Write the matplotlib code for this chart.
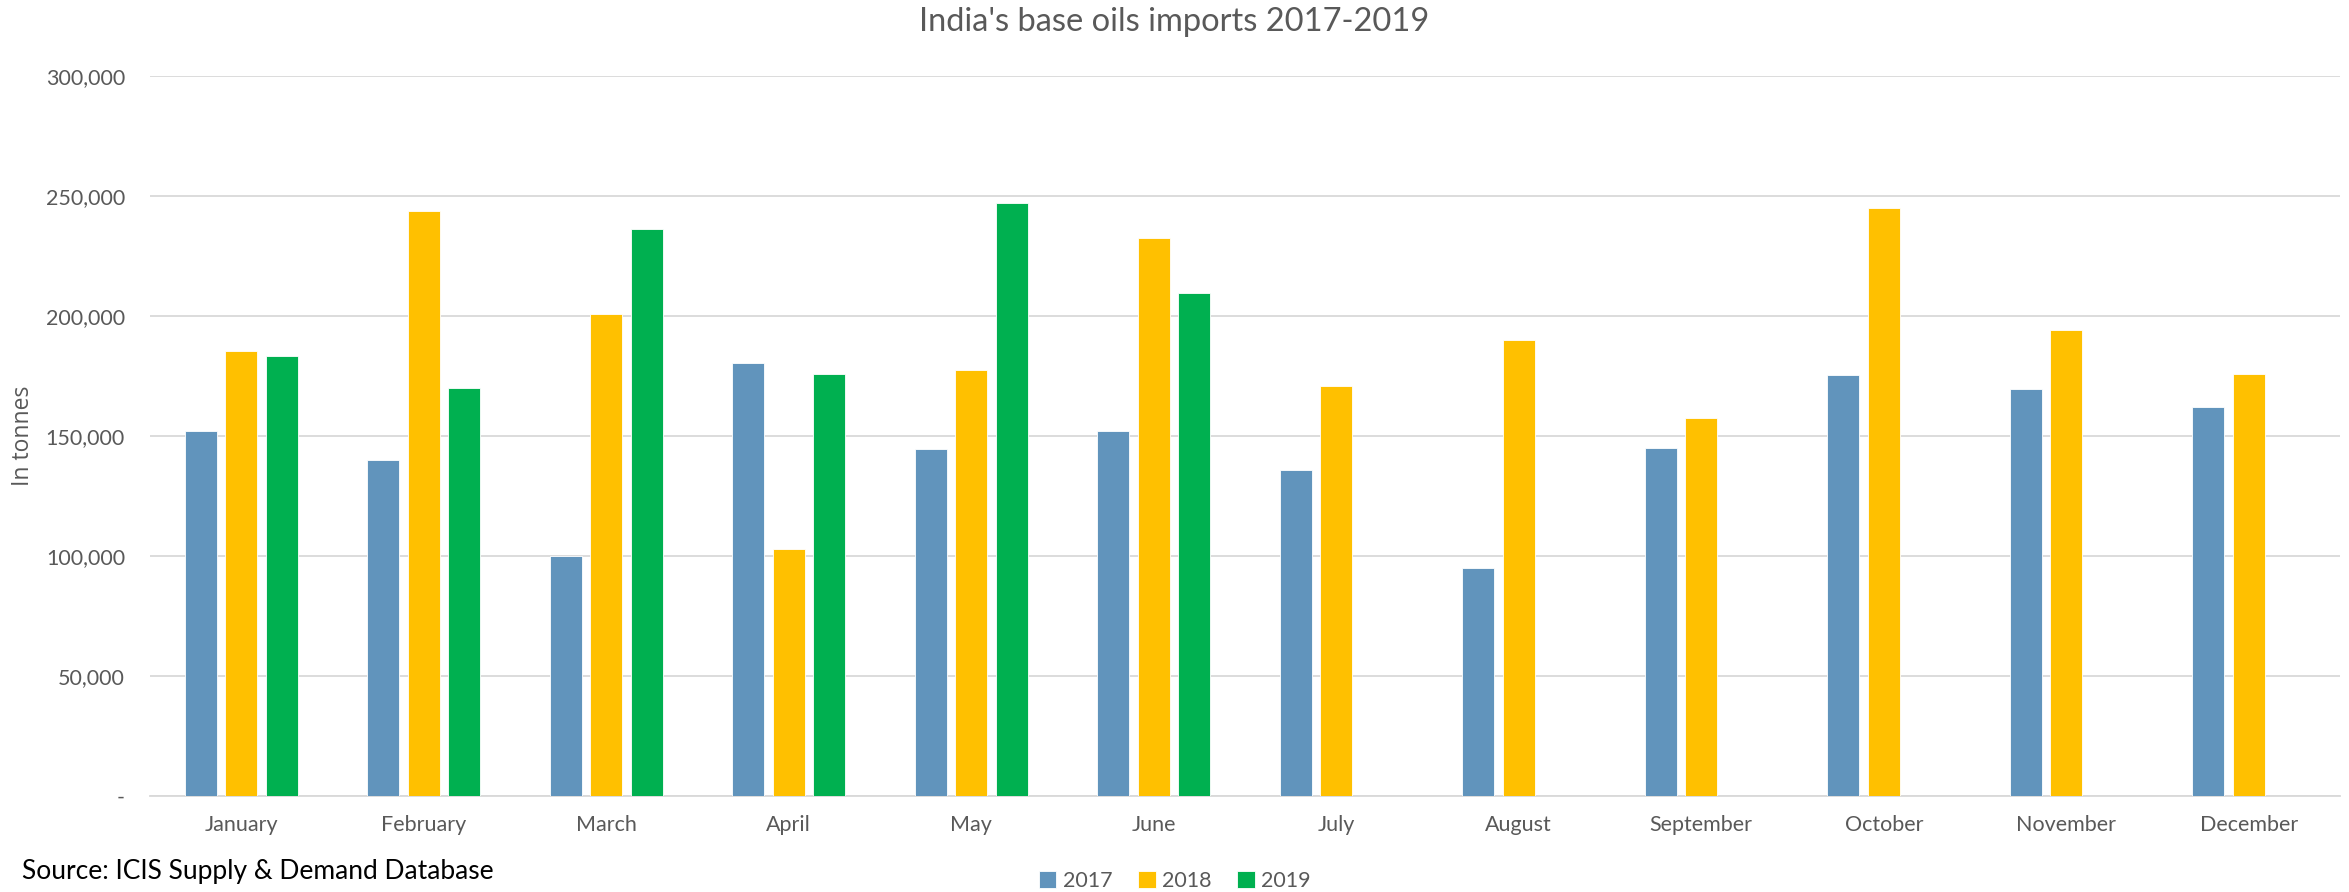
import numpy as np
from matplotlib import pyplot as plt
from matplotlib.ticker import FuncFormatter

plt.rcParams['font.family'] = ['Lato', 'DejaVu Sans']

# Datos (toneladas)
months = ['January', 'February', 'March', 'April', 'May', 'June',
          'July', 'August', 'September', 'October', 'November', 'December']
years = ['2017', '2018', '2019']
imp_2017 = [152000, 140000, 100000, 180500, 144500, 152000,
            136000, 95000, 145000, 175300, 169700, 162000]
imp_2018 = [185500, 243600, 200800, 102800, 177500, 232400,
            170800, 190000, 157500, 244900, 194200, 175700]
imp_2019 = [183200, 169800, 236400, 175700, 247000, 209700]

colors = ['#6194BC', '#FFC000', '#00B050']
gray = '#595959'

fig = plt.figure(figsize=(23.49, 8.92), dpi=100)
ax = fig.add_axes([150/2349, 1 - 796/892, 2190/2349, 720/892])

x = np.arange(len(months))
w = 0.175
step = 0.221
series = [imp_2017, imp_2018, imp_2019]
for i, (vals, c, lab) in enumerate(zip(series, colors, years)):
    xs = x[:len(vals)] + (i - 1) * step
    ax.bar(xs, vals, width=w, color=c, label=lab, edgecolor='white', linewidth=0.6, zorder=3)

ax.set_xlim(-0.5, 11.5)
ax.set_ylim(0, 300000)
ax.set_yticks(np.arange(0, 300001, 50000))
ax.yaxis.set_major_formatter(FuncFormatter(lambda v, p: '-' if v == 0 else f'{int(v):,}'))
ax.set_xticks(x)
ax.set_xticklabels(months)
ax.tick_params(axis='both', length=0, labelsize=15.5, colors=gray)
ax.tick_params(axis='x', pad=14)
ax.tick_params(axis='y', pad=18)
ax.yaxis.grid(True, color='#D9D9D9', linewidth=1.3, zorder=0)
ax.set_axisbelow(True)
for s in ['top', 'right', 'left']:
    ax.spines[s].set_visible(False)
ax.spines['bottom'].set_color('#D9D9D9')
ax.spines['bottom'].set_linewidth(1.3)

# el título del eje va en otra fuente, más grande
ax.set_ylabel('In tonnes', fontsize=16.5, color=gray, family=['Open Sans', 'DejaVu Sans'])
ax.yaxis.set_label_coords(-115/2190, 0.5)

fig.text(0.5, 1 - 22/892, "India's base oils imports 2017-2019", ha='center', va='center',
         fontsize=23.5, color=gray)
fig.text(22/2349, 1 - 872/892, 'Source: ICIS Supply & Demand Database', ha='left', va='center',
         fontsize=19, color='black')

fig.legend(loc='center', bbox_to_anchor=(1175/2349, 1 - 881/892), ncol=3, frameon=False,
           fontsize=15.5, handlelength=0.8, handleheight=0.8, handletextpad=0.3,
           columnspacing=1.2, labelcolor=gray)

fig.savefig('out.png', dpi=100)
